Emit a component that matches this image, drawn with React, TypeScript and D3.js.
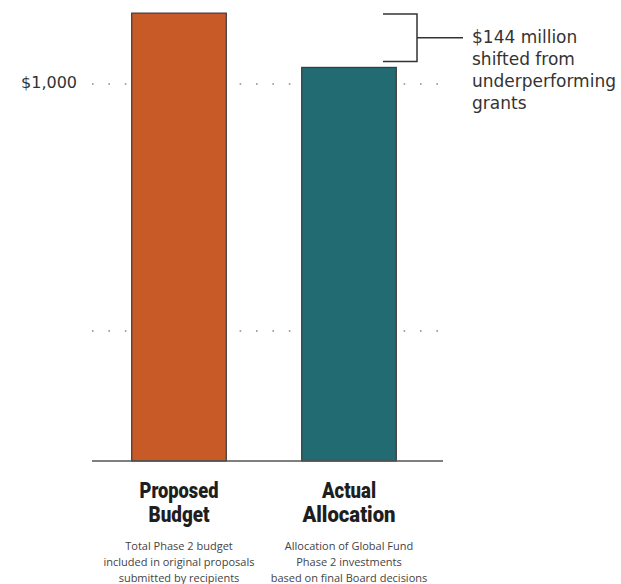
import React from "react";
import * as d3 from "d3";

const categories = ["Proposed Budget", "Actual Allocation"];
const values = [1188, 1044]; // $ millions
const barColors = ["#C85A27", "#236B72"];
const titleLines = [["Proposed", "Budget"], ["Actual", "Allocation"]];
const descLines = [
  ["Total Phase 2 budget", "included in original proposals", "submitted by recipients"],
  ["Allocation of Global Fund", "Phase 2 investments", "based on final Board decisions"],
];
const gridValues = [1000, 345];
const gridLabels = ["$1,000", ""];
const annotationLines = ["$144 million", "shifted from", "underperforming", "grants"];
const titleWidths = [[79, 61], [54, 93]];

const W = 621;
const H = 584;
const x0 = 92;
const x1 = 443;
const baseY = 461;

export default function App() {
  const x = d3
    .scaleBand<string>()
    .domain(categories)
    .range([x0, 436])
    .paddingInner(0.4435)
    .paddingOuter(0.2335);
  const y = d3.scaleLinear().domain([0, 1000]).range([baseY, 84]);

  const topY = y(values[0]);
  const lowY = y(values[1]);
  const bx0 = 383;
  const bx1 = 417;
  const bTop = topY + 1;
  const bBot = lowY - 6;
  const bMid = (bTop + bBot) / 2;

  return (
    <svg
      width={W}
      height={H}
      style={{ position: "absolute", left: 0, top: 0, background: "#fff" }}
      fontFamily="'DejaVu Sans', sans-serif"
    >
      {gridValues.map((v, i) => (
        <g key={v}>
          <line
            x1={x0}
            x2={x1}
            y1={y(v)}
            y2={y(v)}
            stroke="#8a8a8a"
            strokeWidth={1.6}
            strokeDasharray="1.6 14.8"
          />
          {gridLabels[i] && (
            <text x={77} y={y(v) + 4} textAnchor="end" fontSize={16} fill="#333">
              {gridLabels[i]}
            </text>
          )}
        </g>
      ))}
      {categories.map((c, i) => (
        <rect
          key={c}
          x={x(c)!}
          y={y(values[i])}
          width={x.bandwidth()}
          height={baseY - y(values[i])}
          fill={barColors[i]}
          stroke="#3a3a3a"
          strokeWidth={1.2}
        />
      ))}
      <line x1={x0} x2={x1} y1={baseY} y2={baseY} stroke="#555" strokeWidth={1.5} />
      {categories.map((c, i) => {
        const cx = x(c)! + x.bandwidth() / 2;
        return (
          <g key={c + "t"}>
            {titleLines[i].map((t, j) => (
              <text
                key={t}
                x={cx}
                y={498 + j * 24}
                textAnchor="middle"
                fontSize={22}
                fontWeight={900}
                fontFamily="Roboto, 'Liberation Sans Narrow', sans-serif"
                fill="#1e1e1e"
                textLength={titleWidths[i][j]}
                lengthAdjust="spacingAndGlyphs"
              >
                {t}
              </text>
            ))}
            {descLines[i].map((t, j) => (
              <text
                key={t}
                x={cx}
                y={550 + j * 16}
                textAnchor="middle"
                fontSize={11}
                fontFamily="'Open Sans', sans-serif"
                fill="#444"
              >
                {t}
              </text>
            ))}
          </g>
        );
      })}
      <path
        d={`M${bx0},${bTop}H${bx1}V${bBot}H${bx0}M${bx1},${bMid}H463`}
        fill="none"
        stroke="#333"
        strokeWidth={1.5}
      />
      {annotationLines.map((t, i) => (
        <text key={t} x={472} y={43 + i * 22} fontSize={17} fill="#333">
          {t}
        </text>
      ))}
    </svg>
  );
}
